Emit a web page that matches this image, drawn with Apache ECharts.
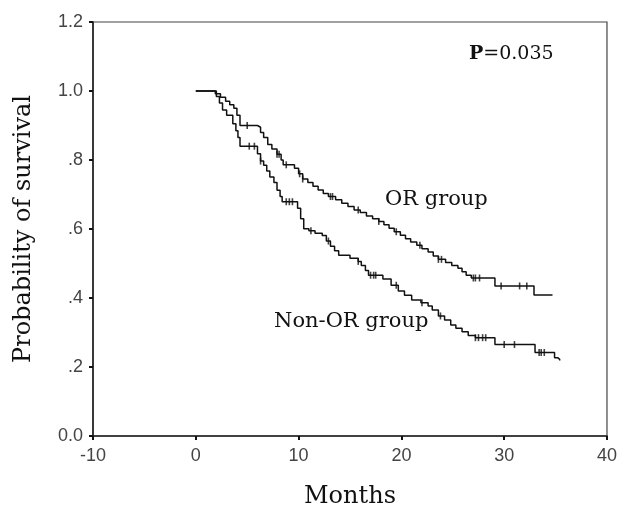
<!DOCTYPE html>
<html>
<head>
<meta charset="utf-8">
<script src="https://cdn.jsdelivr.net/npm/echarts@6/dist/echarts.min.js"></script>
<style>
  html, body { margin: 0; padding: 0; background: #fff; }
  #survival { width: 620px; height: 514px; }
</style>
</head>
<body>
<div id="survival"></div>
<script>
// Kaplan-Meier curves (months, survival)
var orTimes = [0, 1.9, 2.4, 2.9, 3.3, 3.7, 4.0, 4.3, 6.0, 6.3, 6.6, 7.0, 7.4, 7.9, 8.3, 8.5, 9.6, 10.0, 10.4, 10.9, 11.4, 11.9, 12.4, 12.9, 13.6, 14.2, 14.8, 15.4, 16.0, 16.6, 17.2, 17.8, 18.3, 18.8, 19.3, 19.9, 20.4, 20.9, 21.5, 22.0, 22.6, 23.1, 23.6, 24.3, 24.9, 25.5, 25.9, 26.3, 26.8, 29.1, 32.9, 34.7];
var orSurv = [1.0, 0.992, 0.982, 0.970, 0.960, 0.950, 0.930, 0.900, 0.895, 0.880, 0.865, 0.845, 0.832, 0.817, 0.800, 0.786, 0.776, 0.760, 0.745, 0.735, 0.724, 0.713, 0.703, 0.694, 0.685, 0.675, 0.665, 0.655, 0.648, 0.638, 0.630, 0.622, 0.612, 0.602, 0.592, 0.582, 0.572, 0.562, 0.553, 0.543, 0.533, 0.522, 0.512, 0.503, 0.494, 0.486, 0.476, 0.466, 0.458, 0.435, 0.409, 0.409];

var nonOrTimes = [0, 2.0, 2.3, 2.6, 3.0, 3.6, 3.9, 4.1, 4.3, 6.0, 6.3, 6.6, 6.9, 7.2, 7.6, 7.9, 8.2, 8.4, 9.9, 10.2, 10.5, 11.0, 11.6, 12.3, 12.7, 13.1, 13.5, 13.9, 15.0, 15.8, 16.1, 16.5, 16.8, 18.2, 19.0, 19.7, 20.3, 21.0, 21.9, 22.6, 23.0, 23.6, 24.2, 24.8, 25.3, 25.9, 26.5, 27.2, 29.1, 33.0, 34.9, 35.2, 35.4];
var nonOrSurv = [1.0, 0.984, 0.965, 0.945, 0.930, 0.905, 0.885, 0.865, 0.840, 0.818, 0.797, 0.785, 0.768, 0.751, 0.735, 0.712, 0.694, 0.679, 0.660, 0.630, 0.601, 0.595, 0.588, 0.581, 0.565, 0.550, 0.537, 0.524, 0.515, 0.506, 0.494, 0.480, 0.466, 0.455, 0.437, 0.420, 0.408, 0.394, 0.386, 0.377, 0.365, 0.348, 0.336, 0.322, 0.312, 0.302, 0.291, 0.285, 0.265, 0.242, 0.227, 0.222, 0.219];

// censored observations (tick marks)
var orCensorTimes = [5.0, 7.9, 8.1, 8.8, 10.1, 10.4, 13.1, 13.3, 15.8, 17.8, 19.5, 21.8, 23.6, 23.9, 27.0, 27.2, 27.6, 29.7, 31.5, 32.2];
var orCensorSurv = [0.900, 0.817, 0.817, 0.786, 0.760, 0.745, 0.694, 0.694, 0.655, 0.622, 0.592, 0.553, 0.512, 0.512, 0.458, 0.458, 0.458, 0.435, 0.435, 0.435];
var nonOrCensorTimes = [5.2, 5.7, 6.3, 8.8, 9.1, 9.4, 11.2, 12.9, 15.8, 17.0, 17.3, 17.5, 19.5, 22.0, 23.8, 27.2, 27.5, 27.9, 28.2, 30.0, 31.0, 33.4, 33.6, 33.9];
var nonOrCensorSurv = [0.840, 0.840, 0.797, 0.679, 0.679, 0.679, 0.595, 0.565, 0.506, 0.466, 0.466, 0.466, 0.437, 0.386, 0.348, 0.285, 0.285, 0.285, 0.285, 0.265, 0.265, 0.242, 0.242, 0.242];

var yTickLabels = ['0.0', '.2', '.4', '.6', '.8', '1.0', '1.2'];
var xTickLabels = ['-10', '0', '10', '20', '30', '40'];

function pairs(xs, ys) {
    return xs.map(function (x, i) { return [x, ys[i]]; });
}

var chart = echarts.init(document.getElementById('survival'));
var tickFont = {
    color: '#444',
    fontFamily: 'Liberation Sans',
    fontSize: 18
};
var option = {
    animation: false,
    backgroundColor: '#fff',
    grid: {
        left: 93,
        right: 10,
        top: 22,
        bottom: 75,
        show: true,
        borderColor: '#444',
        borderWidth: 1.2
    },
    xAxis: {
        type: 'value',
        min: -10,
        max: 40,
        interval: 10,
        name: 'Months',
        nameLocation: 'middle',
        nameGap: 49,
        nameTextStyle: { fontFamily: 'DejaVu Serif', fontSize: 24, color: '#111' },
        splitLine: { show: false },
        axisLine: { onZero: false, lineStyle: { color: '#222', width: 1.6 } },
        axisTick: { length: 4, lineStyle: { color: '#111', width: 2 } },
        axisLabel: Object.assign({
            margin: 11,
            formatter: function (v, i) { return xTickLabels[i]; }
        }, tickFont)
    },
    yAxis: {
        type: 'value',
        min: 0,
        max: 1.2,
        interval: 0.2,
        name: 'Probability of survival',
        nameLocation: 'middle',
        nameGap: 57,
        nameTextStyle: { fontFamily: 'DejaVu Serif', fontSize: 24, color: '#111' },
        splitLine: { show: false },
        axisLine: { show: true, onZero: false, lineStyle: { color: '#222', width: 1.6 } },
        axisTick: { show: true, length: 4, lineStyle: { color: '#111', width: 2 } },
        axisLabel: Object.assign({
            margin: 10,
            formatter: function (v, i) { return yTickLabels[i]; }
        }, tickFont)
    },
    series: [
        {
            name: 'OR group',
            type: 'line',
            step: 'end',
            symbol: 'none',
            lineStyle: { color: '#111', width: 1.5 },
            data: pairs(orTimes, orSurv)
        },
        {
            name: 'Non-OR group',
            type: 'line',
            step: 'end',
            symbol: 'none',
            lineStyle: { color: '#111', width: 1.5 },
            data: pairs(nonOrTimes, nonOrSurv)
        },
        {
            name: 'OR censored',
            type: 'scatter',
            symbol: 'rect',
            symbolSize: [1.6, 7],
            itemStyle: { color: '#111' },
            data: pairs(orCensorTimes, orCensorSurv)
        },
        {
            name: 'Non-OR censored',
            type: 'scatter',
            symbol: 'rect',
            symbolSize: [1.6, 7],
            itemStyle: { color: '#111' },
            data: pairs(nonOrCensorTimes, nonOrCensorSurv)
        }
    ],
    graphic: [
        {
            type: 'text',
            left: 469,
            top: 45,
            style: {
                text: '{b|P}=0.035',
                font: '19px "DejaVu Serif"',
                fill: '#111',
                rich: {
                    b: { fontFamily: 'DejaVu Serif', fontSize: 19, fontWeight: 'bold', fill: '#111' }
                }
            }
        },
        {
            type: 'text',
            left: 385,
            top: 189,
            style: { text: 'OR group', font: '21px "DejaVu Serif"', fill: '#111' }
        },
        {
            type: 'text',
            left: 274,
            top: 311,
            style: { text: 'Non-OR group', font: '21px "DejaVu Serif"', fill: '#111' }
        }
    ]
};
chart.setOption(option);
</script>
</body>
</html>
